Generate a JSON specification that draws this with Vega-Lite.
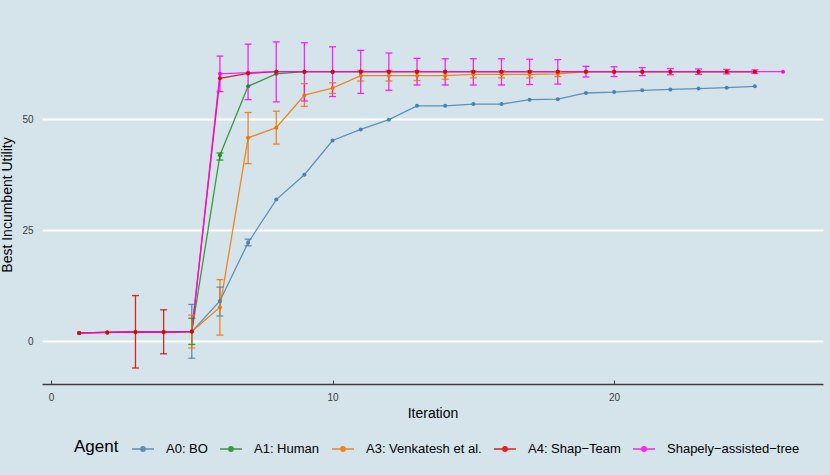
{
  "$schema": "https://vega.github.io/schema/vega-lite/v6.json",
  "autosize": {"type": "none"},
  "padding": {"left": 42, "top": 25, "right": 7, "bottom": 91},
  "width": 781,
  "height": 359,
  "background": "#d5e4eb",
  "config": {
    "view": {"stroke": null},
    "font": "Liberation Sans",
    "axis": {"labelColor": "#3c3c3c", "titleColor": "#000000", "titleFontWeight": "normal", "titleFontSize": 14, "labelFontSize": 10}
  },
  "datasets": {
    "runs": [
      {"agent": "A0: BO", "iteration": 1, "mean": 1.9, "lo": null, "hi": null},
      {"agent": "A0: BO", "iteration": 2, "mean": 2.0, "lo": null, "hi": null},
      {"agent": "A0: BO", "iteration": 3, "mean": 2.1, "lo": null, "hi": null},
      {"agent": "A0: BO", "iteration": 4, "mean": 2.1, "lo": null, "hi": null},
      {"agent": "A0: BO", "iteration": 5, "mean": 2.2, "lo": -3.8, "hi": 8.3},
      {"agent": "A0: BO", "iteration": 6, "mean": 9.1, "lo": 5.7, "hi": 12.2},
      {"agent": "A0: BO", "iteration": 7, "mean": 22.2, "lo": 21.5, "hi": 23.0},
      {"agent": "A0: BO", "iteration": 8, "mean": 31.9, "lo": null, "hi": null},
      {"agent": "A0: BO", "iteration": 9, "mean": 37.5, "lo": null, "hi": null},
      {"agent": "A0: BO", "iteration": 10, "mean": 45.2, "lo": null, "hi": null},
      {"agent": "A0: BO", "iteration": 11, "mean": 47.7, "lo": null, "hi": null},
      {"agent": "A0: BO", "iteration": 12, "mean": 49.9, "lo": null, "hi": null},
      {"agent": "A0: BO", "iteration": 13, "mean": 53.0, "lo": null, "hi": null},
      {"agent": "A0: BO", "iteration": 14, "mean": 53.0, "lo": null, "hi": null},
      {"agent": "A0: BO", "iteration": 15, "mean": 53.4, "lo": null, "hi": null},
      {"agent": "A0: BO", "iteration": 16, "mean": 53.4, "lo": null, "hi": null},
      {"agent": "A0: BO", "iteration": 17, "mean": 54.4, "lo": null, "hi": null},
      {"agent": "A0: BO", "iteration": 18, "mean": 54.5, "lo": null, "hi": null},
      {"agent": "A0: BO", "iteration": 19, "mean": 55.9, "lo": null, "hi": null},
      {"agent": "A0: BO", "iteration": 20, "mean": 56.1, "lo": null, "hi": null},
      {"agent": "A0: BO", "iteration": 21, "mean": 56.5, "lo": null, "hi": null},
      {"agent": "A0: BO", "iteration": 22, "mean": 56.7, "lo": null, "hi": null},
      {"agent": "A0: BO", "iteration": 23, "mean": 56.9, "lo": null, "hi": null},
      {"agent": "A0: BO", "iteration": 24, "mean": 57.1, "lo": null, "hi": null},
      {"agent": "A0: BO", "iteration": 25, "mean": 57.4, "lo": null, "hi": null},
      {"agent": "A1: Human", "iteration": 1, "mean": 1.9, "lo": null, "hi": null},
      {"agent": "A1: Human", "iteration": 2, "mean": 2.0, "lo": null, "hi": null},
      {"agent": "A1: Human", "iteration": 3, "mean": 2.1, "lo": null, "hi": null},
      {"agent": "A1: Human", "iteration": 4, "mean": 2.1, "lo": null, "hi": null},
      {"agent": "A1: Human", "iteration": 5, "mean": 2.2, "lo": -0.7, "hi": 5.2},
      {"agent": "A1: Human", "iteration": 6, "mean": 41.9, "lo": 40.8, "hi": 42.4},
      {"agent": "A1: Human", "iteration": 7, "mean": 57.4, "lo": null, "hi": null},
      {"agent": "A1: Human", "iteration": 8, "mean": 60.2, "lo": null, "hi": null},
      {"agent": "A1: Human", "iteration": 9, "mean": 60.7, "lo": null, "hi": null},
      {"agent": "A1: Human", "iteration": 10, "mean": 60.7, "lo": null, "hi": null},
      {"agent": "A1: Human", "iteration": 11, "mean": 60.7, "lo": null, "hi": null},
      {"agent": "A1: Human", "iteration": 12, "mean": 60.7, "lo": null, "hi": null},
      {"agent": "A1: Human", "iteration": 13, "mean": 60.7, "lo": null, "hi": null},
      {"agent": "A1: Human", "iteration": 14, "mean": 60.7, "lo": null, "hi": null},
      {"agent": "A1: Human", "iteration": 15, "mean": 60.7, "lo": null, "hi": null},
      {"agent": "A1: Human", "iteration": 16, "mean": 60.7, "lo": null, "hi": null},
      {"agent": "A1: Human", "iteration": 17, "mean": 60.7, "lo": null, "hi": null},
      {"agent": "A1: Human", "iteration": 18, "mean": 60.7, "lo": null, "hi": null},
      {"agent": "A1: Human", "iteration": 19, "mean": 60.7, "lo": null, "hi": null},
      {"agent": "A1: Human", "iteration": 20, "mean": 60.7, "lo": null, "hi": null},
      {"agent": "A1: Human", "iteration": 21, "mean": 60.7, "lo": null, "hi": null},
      {"agent": "A1: Human", "iteration": 22, "mean": 60.7, "lo": null, "hi": null},
      {"agent": "A1: Human", "iteration": 23, "mean": 60.7, "lo": null, "hi": null},
      {"agent": "A1: Human", "iteration": 24, "mean": 60.7, "lo": null, "hi": null},
      {"agent": "A1: Human", "iteration": 25, "mean": 60.7, "lo": null, "hi": null},
      {"agent": "A3: Venkatesh et al.", "iteration": 1, "mean": 1.9, "lo": null, "hi": null},
      {"agent": "A3: Venkatesh et al.", "iteration": 2, "mean": 2.0, "lo": null, "hi": null},
      {"agent": "A3: Venkatesh et al.", "iteration": 3, "mean": 2.1, "lo": null, "hi": null},
      {"agent": "A3: Venkatesh et al.", "iteration": 4, "mean": 2.1, "lo": null, "hi": null},
      {"agent": "A3: Venkatesh et al.", "iteration": 5, "mean": 2.2, "lo": -1.5, "hi": 5.9},
      {"agent": "A3: Venkatesh et al.", "iteration": 6, "mean": 7.7, "lo": 1.4, "hi": 13.9},
      {"agent": "A3: Venkatesh et al.", "iteration": 7, "mean": 45.8, "lo": 40.0, "hi": 51.5},
      {"agent": "A3: Venkatesh et al.", "iteration": 8, "mean": 48.1, "lo": 44.4, "hi": 51.8},
      {"agent": "A3: Venkatesh et al.", "iteration": 9, "mean": 55.4, "lo": 52.9, "hi": 58.0},
      {"agent": "A3: Venkatesh et al.", "iteration": 10, "mean": 57.0, "lo": 55.8, "hi": 58.2},
      {"agent": "A3: Venkatesh et al.", "iteration": 11, "mean": 59.8, "lo": 58.6, "hi": 61.0},
      {"agent": "A3: Venkatesh et al.", "iteration": 12, "mean": 59.8, "lo": 58.6, "hi": 61.0},
      {"agent": "A3: Venkatesh et al.", "iteration": 13, "mean": 59.8, "lo": 58.7, "hi": 60.9},
      {"agent": "A3: Venkatesh et al.", "iteration": 14, "mean": 59.8, "lo": 59.0, "hi": 60.6},
      {"agent": "A3: Venkatesh et al.", "iteration": 15, "mean": 60.1, "lo": 59.3, "hi": 60.9},
      {"agent": "A3: Venkatesh et al.", "iteration": 16, "mean": 60.1, "lo": 59.3, "hi": 60.9},
      {"agent": "A3: Venkatesh et al.", "iteration": 17, "mean": 60.1, "lo": 59.3, "hi": 60.9},
      {"agent": "A3: Venkatesh et al.", "iteration": 18, "mean": 60.2, "lo": 59.6, "hi": 60.8},
      {"agent": "A3: Venkatesh et al.", "iteration": 19, "mean": 60.7, "lo": null, "hi": null},
      {"agent": "A3: Venkatesh et al.", "iteration": 20, "mean": 60.7, "lo": null, "hi": null},
      {"agent": "A3: Venkatesh et al.", "iteration": 21, "mean": 60.7, "lo": null, "hi": null},
      {"agent": "A3: Venkatesh et al.", "iteration": 22, "mean": 60.7, "lo": null, "hi": null},
      {"agent": "A3: Venkatesh et al.", "iteration": 23, "mean": 60.7, "lo": null, "hi": null},
      {"agent": "A3: Venkatesh et al.", "iteration": 24, "mean": 60.7, "lo": null, "hi": null},
      {"agent": "A3: Venkatesh et al.", "iteration": 25, "mean": 60.7, "lo": null, "hi": null},
      {"agent": "A4: Shap−Team", "iteration": 1, "mean": 1.9, "lo": null, "hi": null},
      {"agent": "A4: Shap−Team", "iteration": 2, "mean": 2.0, "lo": null, "hi": null},
      {"agent": "A4: Shap−Team", "iteration": 3, "mean": 2.1, "lo": -6.0, "hi": 10.3},
      {"agent": "A4: Shap−Team", "iteration": 4, "mean": 2.1, "lo": -2.8, "hi": 7.1},
      {"agent": "A4: Shap−Team", "iteration": 5, "mean": 2.2, "lo": null, "hi": null},
      {"agent": "A4: Shap−Team", "iteration": 6, "mean": 59.2, "lo": null, "hi": null},
      {"agent": "A4: Shap−Team", "iteration": 7, "mean": 60.3, "lo": null, "hi": null},
      {"agent": "A4: Shap−Team", "iteration": 8, "mean": 60.7, "lo": null, "hi": null},
      {"agent": "A4: Shap−Team", "iteration": 9, "mean": 60.7, "lo": null, "hi": null},
      {"agent": "A4: Shap−Team", "iteration": 10, "mean": 60.7, "lo": null, "hi": null},
      {"agent": "A4: Shap−Team", "iteration": 11, "mean": 60.7, "lo": null, "hi": null},
      {"agent": "A4: Shap−Team", "iteration": 12, "mean": 60.7, "lo": null, "hi": null},
      {"agent": "A4: Shap−Team", "iteration": 13, "mean": 60.7, "lo": null, "hi": null},
      {"agent": "A4: Shap−Team", "iteration": 14, "mean": 60.7, "lo": null, "hi": null},
      {"agent": "A4: Shap−Team", "iteration": 15, "mean": 60.7, "lo": null, "hi": null},
      {"agent": "A4: Shap−Team", "iteration": 16, "mean": 60.7, "lo": null, "hi": null},
      {"agent": "A4: Shap−Team", "iteration": 17, "mean": 60.7, "lo": null, "hi": null},
      {"agent": "A4: Shap−Team", "iteration": 18, "mean": 60.7, "lo": null, "hi": null},
      {"agent": "A4: Shap−Team", "iteration": 19, "mean": 60.7, "lo": null, "hi": null},
      {"agent": "A4: Shap−Team", "iteration": 20, "mean": 60.7, "lo": null, "hi": null},
      {"agent": "A4: Shap−Team", "iteration": 21, "mean": 60.7, "lo": null, "hi": null},
      {"agent": "A4: Shap−Team", "iteration": 22, "mean": 60.7, "lo": null, "hi": null},
      {"agent": "A4: Shap−Team", "iteration": 23, "mean": 60.7, "lo": null, "hi": null},
      {"agent": "A4: Shap−Team", "iteration": 24, "mean": 60.7, "lo": null, "hi": null},
      {"agent": "A4: Shap−Team", "iteration": 25, "mean": 60.7, "lo": null, "hi": null},
      {"agent": "Shapely−assisted−tree", "iteration": 1, "mean": 1.9, "lo": null, "hi": null},
      {"agent": "Shapely−assisted−tree", "iteration": 2, "mean": 2.0, "lo": null, "hi": null},
      {"agent": "Shapely−assisted−tree", "iteration": 3, "mean": 2.1, "lo": null, "hi": null},
      {"agent": "Shapely−assisted−tree", "iteration": 4, "mean": 2.1, "lo": null, "hi": null},
      {"agent": "Shapely−assisted−tree", "iteration": 5, "mean": 2.2, "lo": null, "hi": null},
      {"agent": "Shapely−assisted−tree", "iteration": 6, "mean": 60.2, "lo": 56.2, "hi": 64.2},
      {"agent": "Shapely−assisted−tree", "iteration": 7, "mean": 60.5, "lo": 54.4, "hi": 66.9},
      {"agent": "Shapely−assisted−tree", "iteration": 8, "mean": 60.7, "lo": 53.9, "hi": 67.4},
      {"agent": "Shapely−assisted−tree", "iteration": 9, "mean": 60.7, "lo": 54.1, "hi": 67.2},
      {"agent": "Shapely−assisted−tree", "iteration": 10, "mean": 60.7, "lo": 55.1, "hi": 66.3},
      {"agent": "Shapely−assisted−tree", "iteration": 11, "mean": 60.7, "lo": 55.8, "hi": 65.5},
      {"agent": "Shapely−assisted−tree", "iteration": 12, "mean": 60.7, "lo": 56.5, "hi": 64.9},
      {"agent": "Shapely−assisted−tree", "iteration": 13, "mean": 60.7, "lo": 57.7, "hi": 63.7},
      {"agent": "Shapely−assisted−tree", "iteration": 14, "mean": 60.7, "lo": 57.7, "hi": 63.6},
      {"agent": "Shapely−assisted−tree", "iteration": 15, "mean": 60.7, "lo": 57.7, "hi": 63.6},
      {"agent": "Shapely−assisted−tree", "iteration": 16, "mean": 60.7, "lo": 57.7, "hi": 63.6},
      {"agent": "Shapely−assisted−tree", "iteration": 17, "mean": 60.7, "lo": 57.8, "hi": 63.5},
      {"agent": "Shapely−assisted−tree", "iteration": 18, "mean": 60.7, "lo": 57.9, "hi": 63.4},
      {"agent": "Shapely−assisted−tree", "iteration": 19, "mean": 60.7, "lo": 59.5, "hi": 61.9},
      {"agent": "Shapely−assisted−tree", "iteration": 20, "mean": 60.7, "lo": 59.6, "hi": 61.8},
      {"agent": "Shapely−assisted−tree", "iteration": 21, "mean": 60.7, "lo": 59.8, "hi": 61.6},
      {"agent": "Shapely−assisted−tree", "iteration": 22, "mean": 60.7, "lo": 60.0, "hi": 61.4},
      {"agent": "Shapely−assisted−tree", "iteration": 23, "mean": 60.7, "lo": 60.1, "hi": 61.3},
      {"agent": "Shapely−assisted−tree", "iteration": 24, "mean": 60.7, "lo": 60.2, "hi": 61.2},
      {"agent": "Shapely−assisted−tree", "iteration": 25, "mean": 60.7, "lo": 60.3, "hi": 61.1},
      {"agent": "Shapely−assisted−tree", "iteration": 26, "mean": 60.7, "lo": null, "hi": null}
    ]
  },
  "data": {"name": "runs"},
  "encoding": {
    "x": {
      "field": "iteration",
      "type": "quantitative",
      "title": "Iteration",
      "scale": {"domain": [-0.32, 27.42], "nice": false, "zero": false},
      "axis": {
        "values": [0, 10, 20],
        "grid": false,
        "domainColor": "#3c3c3c",
        "domainWidth": 1.5,
        "tickColor": "#3c3c3c",
        "tickSize": -4,
        "tickWidth": 1,
        "labelPadding": 12,
        "titlePadding": 4
      }
    },
    "color": {
      "field": "agent",
      "type": "nominal",
      "title": "Agent",
      "scale": {
        "domain": ["A0: BO", "A1: Human", "A3: Venkatesh et al.", "A4: Shap−Team", "Shapely−assisted−tree"],
        "range": ["#4682b4", "#228b22", "#ee7600", "#e00000", "#ff00ff"]
      },
      "legend": {
        "orient": "none",
        "legendX": 32,
        "legendY": 412,
        "direction": "horizontal",
        "titleOrient": "left",
        "titleFontSize": 17,
        "titleFontWeight": "normal",
        "titleColor": "#000000",
        "titlePadding": 12,
        "titleBaseline": "middle",
        "titleAnchor": "middle",
        "labelFontSize": 13,
        "labelColor": "#000000",
        "labelOffset": 11,
        "columnPadding": 9,
        "padding": 0,
        "symbolType": "M-1,0H1M-0.2,0A0.2,0.2,0,1,0,0.2,0A0.2,0.2,0,1,0,-0.2,0",
        "symbolSize": 484,
        "symbolStrokeWidth": 1.4,
        "encode": {
          "symbols": {
            "update": {
              "fill": {"scale": "color", "field": "value"},
              "stroke": {"scale": "color", "field": "value"},
              "opacity": {"value": 1}
            }
          }
        }
      }
    }
  },
  "layer": [
    {
      "mark": {"type": "line", "strokeWidth": 1.3, "opacity": 0.85},
      "encoding": {
        "y": {
          "field": "mean",
          "type": "quantitative",
          "title": "Best Incumbent Utility",
          "scale": {"domain": [-9.6, 71.2], "nice": false, "zero": false},
          "axis": {
            "values": [0, 25, 50],
            "grid": true,
            "gridColor": "#ffffff",
            "gridWidth": 1.8,
            "domain": false,
            "ticks": false,
            "labelPadding": 9,
            "titlePadding": 7
          }
        }
      }
    },
    {
      "transform": [{"filter": "isValid(datum.lo)"}],
      "mark": {"type": "rule", "strokeWidth": 1.3, "opacity": 0.85},
      "encoding": {"y": {"field": "lo", "type": "quantitative"}, "y2": {"field": "hi"}}
    },
    {
      "transform": [{"filter": "isValid(datum.lo)"}],
      "mark": {"type": "tick", "orient": "horizontal", "size": 7, "thickness": 1.3, "opacity": 0.85},
      "encoding": {"y": {"field": "lo", "type": "quantitative"}}
    },
    {
      "transform": [{"filter": "isValid(datum.hi)"}],
      "mark": {"type": "tick", "orient": "horizontal", "size": 7, "thickness": 1.3, "opacity": 0.85},
      "encoding": {"y": {"field": "hi", "type": "quantitative"}}
    },
    {
      "transform": [{"filter": "datum.agent == 'Shapely−assisted−tree'"}],
      "mark": {"type": "point", "filled": true, "size": 16, "opacity": 1},
      "encoding": {"y": {"field": "mean", "type": "quantitative"}}
    },
    {
      "transform": [{"filter": "datum.agent != 'Shapely−assisted−tree'"}],
      "mark": {"type": "point", "filled": true, "size": 16, "opacity": 1},
      "encoding": {"y": {"field": "mean", "type": "quantitative"}}
    }
  ]
}
